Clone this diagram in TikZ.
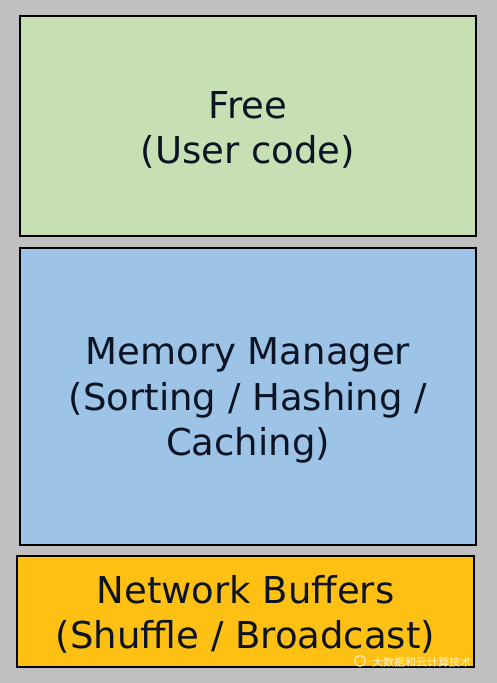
\documentclass[tikz,border=0pt]{standalone}
\usepackage{fontspec}
\setmainfont{DejaVu Sans}
\newfontfamily\cjk{Noto Sans CJK SC}
\definecolor{bggrey}{RGB}{192,192,192}
\definecolor{freegreen}{RGB}{198,224,180}
\definecolor{memblue}{RGB}{157,195,230}
\definecolor{netorange}{RGB}{255,192,20}
\definecolor{textdark}{RGB}{12,20,36}
\begin{document}
\begin{tikzpicture}[x=1pt,y=-1pt,
    region/.style={draw=black,line width=2pt,inner sep=0pt},
    regiontext/.style={align=center,inner sep=0pt,text=textdark,
        font=\fontsize{37}{45.5}\selectfont}]
    % Background
    \fill[bggrey] (0,0) rectangle (497,683);
    \useasboundingbox (0,0) rectangle (497,683);

    % Free memory (user code)
    \node[region,fill=freegreen,minimum width=456pt,minimum height=220pt]
        (free) at (248,126) {};
    \node[regiontext] (freetext) at ([yshift=-4pt]free.center)
        {Free\\(User code)};

    % Memory manager
    \node[region,fill=memblue,minimum width=456pt,minimum height=297pt]
        (mem) at (248,396.5) {};
    \node[regiontext] (memtext) at ([yshift=-4pt]mem.center)
        {Memory Manager\\(Sorting / Hashing /\\Caching)};

    % Network buffers
    \node[region,fill=netorange,minimum width=457pt,minimum height=111pt]
        (net) at (245.5,611.5) {};
    \node[regiontext] (nettext) at ([yshift=-3pt]net.center)
        {Network Buffers\\(Shuffle / Broadcast)};

    % Watermark
    \node[text=white,opacity=0.8,font=\cjk\fontsize{11}{12}\selectfont,
        anchor=west,inner sep=0pt] (mark) at (372,662) {大数据和云计算技术};
    \node[draw=white,opacity=0.8,circle,line width=1pt,minimum size=11pt,
        inner sep=0pt] (logo) at (360,661) {};
\end{tikzpicture}
\end{document}
